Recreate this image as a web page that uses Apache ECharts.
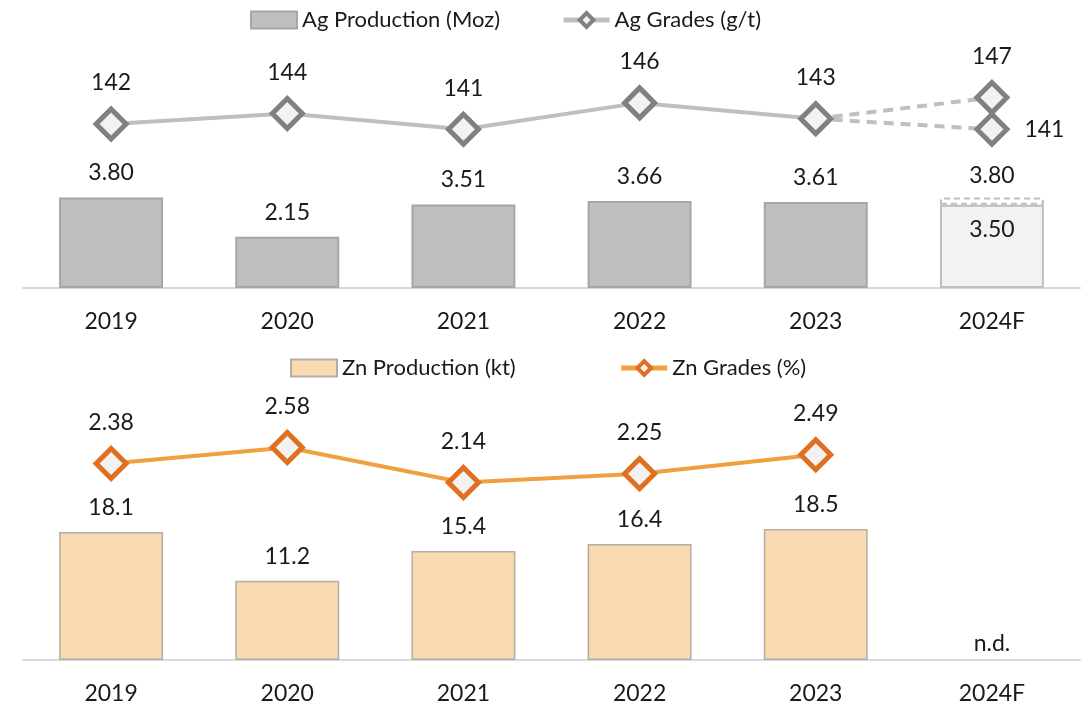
<!DOCTYPE html>
<html>
<head>
<meta charset="utf-8">
<script src="https://cdn.jsdelivr.net/npm/echarts@6/dist/echarts.min.js"></script>
<style>
  html, body { margin: 0; padding: 0; background: #fff; }
  #chart { width: 1089px; height: 705px; }
</style>
</head>
<body>
<div id="chart"></div>
<script>
const years = ['2019', '2020', '2021', '2022', '2023', '2024F']
const agProd = [3.80, 2.15, 3.51, 3.66, 3.61, 3.50]
const agProdHigh = [null, null, null, null, null, 3.80]
const agGrade = [142, 144, 141, 146, 143, null]
const agGradeHigh = [null, null, null, null, 143, 147]
const agGradeLow = [null, null, null, null, 143, 141]
const znProd = [18.1, 11.2, 15.4, 16.4, 18.5, null]
const znGrade = [2.38, 2.58, 2.14, 2.25, 2.49, null]

const font = 'Lato, "Noto Sans", sans-serif'
const txt = '#1a1a1a'
const fs = 23

const myChart = echarts.init(document.getElementById('chart'))

const catAxis = (gridIndex) => ({
  type: 'category',
  gridIndex: gridIndex,
  data: years,
  axisLine: { lineStyle: { color: '#d9d9d9', width: 2 } },
  axisTick: { show: false },
  axisLabel: { color: txt, fontSize: fs, fontFamily: font, margin: 22 }
})
const valAxis = (gridIndex, min, max) => ({
  type: 'value',
  gridIndex: gridIndex,
  min: min,
  max: max,
  show: false,
  splitLine: { show: false }
})

const diamond = (border) => ({
  symbol: 'diamond',
  symbolSize: 30,
  itemStyle: { color: '#f2f2f2', borderColor: border, borderWidth: 5 }
})

const agBarData = agProd.map((v, i) =>
  i === 5
    ? { value: v, itemStyle: { color: '#f2f2f2', borderColor: '#bfbfbf' }, label: { position: 'insideTop', distance: 13 } }
    : v
)
const agExt = agProdHigh.map((v, i) => (v == null ? '-' : +(v - agProd[i]).toFixed(2)))

const option = {
  animation: false,
  textStyle: { fontFamily: font },
  legend: [
    {
      left: 250,
      top: 9,
      padding: 0,
      itemWidth: 46,
      itemHeight: 17,
      itemGap: 61,
      textStyle: { color: txt, fontSize: 22, fontFamily: font },
      data: [
        { name: 'Ag Production (Moz)', icon: 'rect' },
        { name: 'Ag Grades (g/t)', lineStyle: { width: 5 }, itemStyle: { borderWidth: 4 } }
      ]
    },
    {
      left: 290,
      top: 357,
      padding: 0,
      itemWidth: 46,
      itemHeight: 17,
      itemGap: 103,
      textStyle: { color: txt, fontSize: 22, fontFamily: font },
      data: [
        { name: 'Zn Production (kt)', icon: 'rect' },
        { name: 'Zn Grades (%)', lineStyle: { width: 5 }, itemStyle: { borderWidth: 4 } }
      ]
    }
  ],
  grid: [
    { left: 23, right: 9, top: 50, height: 238 },
    { left: 23, right: 9, top: 423, height: 238 }
  ],
  xAxis: [catAxis(0), catAxis(1)],
  yAxis: [
    valAxis(0, 0, 10),
    valAxis(0, 111, 156),
    valAxis(1, 0, 33.5),
    valAxis(1, -0.1, 2.89)
  ],
  series: [
    {
      name: 'Ag Production (Moz)',
      type: 'bar',
      xAxisIndex: 0,
      yAxisIndex: 0,
      stack: 'ag',
      barWidth: '59%',
      data: agBarData,
      itemStyle: { color: '#bfbfbf', borderColor: '#a6a6a6', borderWidth: 2 },
      label: {
        show: true,
        position: 'top',
        distance: 13,
        color: txt,
        fontSize: fs,
        fontFamily: font,
        formatter: (p) => p.value.toFixed(2)
      }
    },
    {
      name: 'agHigh',
      type: 'bar',
      xAxisIndex: 0,
      yAxisIndex: 0,
      stack: 'ag',
      barWidth: '59%',
      data: agExt,
      itemStyle: { color: 'rgba(0,0,0,0)', borderColor: '#bfbfbf', borderWidth: 2, borderType: [6, 4] },
      label: {
        show: true,
        position: 'top',
        distance: 10,
        color: txt,
        fontSize: fs,
        fontFamily: font,
        formatter: (p) => agProdHigh[p.dataIndex].toFixed(2)
      }
    },
    {
      name: 'agHighLine',
      type: 'line',
      xAxisIndex: 0,
      yAxisIndex: 1,
      z: 1,
      data: agGradeHigh.map((v, i) => (v == null ? '-' : i === 4 ? { value: v, symbol: 'none' } : { value: v, label: { show: true, position: 'top', distance: 12 } })),
      lineStyle: { color: '#bfbfbf', width: 4, type: [10, 7] },
      ...diamond('#808080'),
      label: { show: false, color: txt, fontSize: fs, fontFamily: font }
    },
    {
      name: 'agLowLine',
      type: 'line',
      xAxisIndex: 0,
      yAxisIndex: 1,
      z: 1,
      data: agGradeLow.map((v, i) => (v == null ? '-' : i === 4 ? { value: v, symbol: 'none' } : { value: v, label: { show: true, position: 'right', distance: 15 } })),
      lineStyle: { color: '#bfbfbf', width: 4, type: [10, 7] },
      ...diamond('#808080'),
      label: { show: false, color: txt, fontSize: fs, fontFamily: font }
    },
    {
      name: 'Ag Grades (g/t)',
      type: 'line',
      xAxisIndex: 0,
      yAxisIndex: 1,
      z: 3,
      data: agGrade.map((v) => (v == null ? '-' : v)),
      lineStyle: { color: '#bfbfbf', width: 4 },
      ...diamond('#808080'),
      label: { show: true, position: 'top', distance: 12, color: txt, fontSize: fs, fontFamily: font }
    },
    {
      name: 'Zn Production (kt)',
      type: 'bar',
      xAxisIndex: 1,
      yAxisIndex: 2,
      barWidth: '59%',
      data: znProd.map((v) => (v == null ? '-' : v)),
      itemStyle: { color: '#f8d9b0', borderColor: '#b5ada4', borderWidth: 1.5 },
      label: {
        show: true,
        position: 'top',
        distance: 13,
        color: txt,
        fontSize: fs,
        fontFamily: font,
        formatter: (p) => p.value.toFixed(1)
      }
    },
    {
      name: 'znNd',
      type: 'bar',
      xAxisIndex: 1,
      yAxisIndex: 2,
      barWidth: '59%',
      barGap: '-100%',
      data: znProd.map((v) => (v == null ? 0 : '-')),
      itemStyle: { color: 'rgba(0,0,0,0)' },
      label: {
        show: true,
        position: 'top',
        distance: 5,
        color: txt,
        fontSize: fs,
        fontFamily: font,
        formatter: 'n.d.'
      }
    },
    {
      name: 'Zn Grades (%)',
      type: 'line',
      xAxisIndex: 1,
      yAxisIndex: 3,
      data: znGrade.map((v) => (v == null ? '-' : v)),
      lineStyle: { color: '#f0a040', width: 4 },
      ...diamond('#e07020'),
      label: {
        show: true,
        position: 'top',
        distance: 12,
        color: txt,
        fontSize: fs,
        fontFamily: font,
        formatter: (p) => p.value.toFixed(2)
      }
    }
  ]
}

myChart.setOption(option)
</script>
</body>
</html>
